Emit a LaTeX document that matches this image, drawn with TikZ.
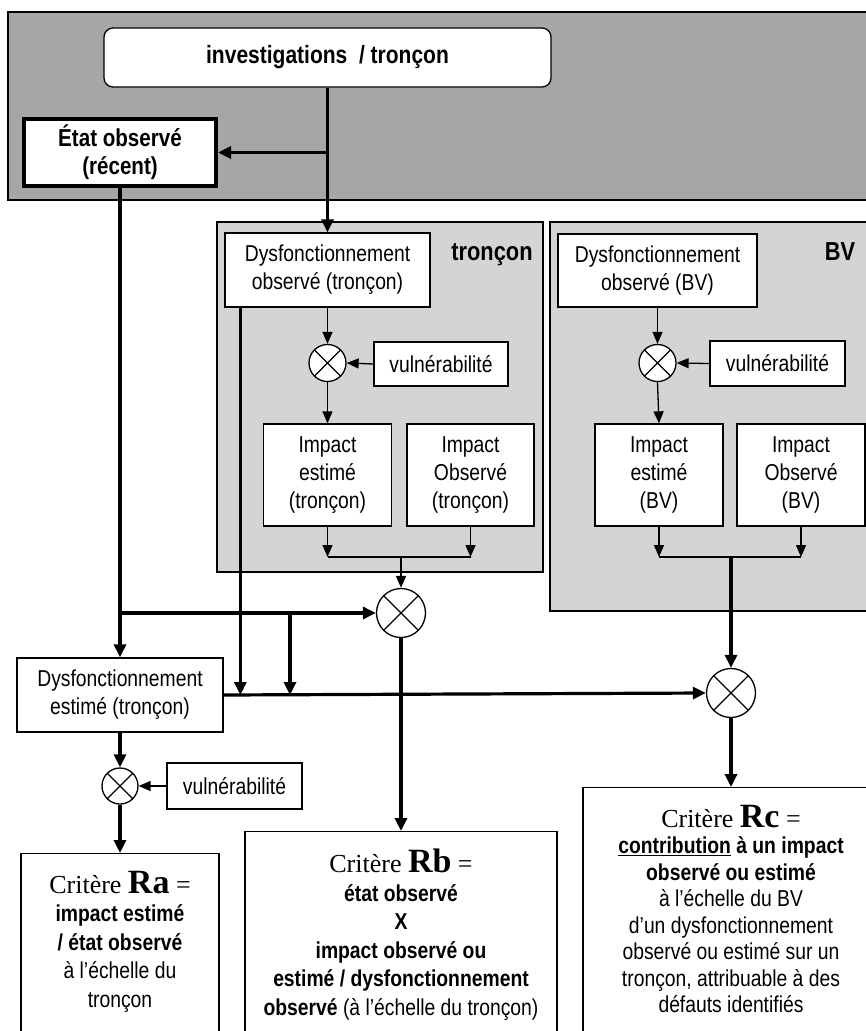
\documentclass[tikz,border=0pt]{standalone}
\usepackage{fontspec}
\setmainfont{Liberation Sans}[FakeStretch=0.84]
\newfontfamily\critserif{Liberation Serif}
\usepackage{xcolor}
\usetikzlibrary{arrows.meta, positioning, calc}
\tikzstyle{arrow} = [line width=3.2pt, -{Triangle[length=13pt,width=12pt]}]
\tikzstyle{thinarrow} = [line width=1.3pt, -{Triangle[length=12pt,width=10pt]}]
\tikzstyle{thickline} = [line width=3.2pt]
\tikzstyle{thinline} = [line width=1.3pt]
\newcommand{\critere}[1]{{\critserif\fontsize{26}{28}\selectfont Critère \textbf{\fontsize{34}{34}\selectfont #1} =}}

\begin{document}
\begin{tikzpicture}[x=1pt, y=-1pt,
        box/.style={draw, line width=1.3pt, fill=white, align=center, inner sep=0pt, font=\fontsize{23}{28}\selectfont},
        zone/.style={draw, line width=1.5pt, fill=black!17},
        mult/.style={circle, draw, line width=1.3pt, fill=white, inner sep=0pt, path picture={
            \draw[line width=1.1pt] (path picture bounding box.north west) -- (path picture bounding box.south east)
                (path picture bounding box.north east) -- (path picture bounding box.south west);}},
        crit/.style={align=center, inner sep=0pt, font=\fontsize{23}{28.5}\selectfont},
        zonelabel/.style={anchor=base, font=\bfseries\fontsize{26}{28}\selectfont}
    ]
        \useasboundingbox (0,0) rectangle (866,1031);
        \clip (0,0) rectangle (866,1031);
        \fill[white] (0,0) rectangle (866,1031);

        % Upper band and the two zones
        \draw[draw, line width=1.5pt, fill=black!35] (8,12) rectangle (890,200);
        \draw[zone] (217,222) rectangle (543,572);
        \draw[zone] (550,222) rectangle (890,611);
        \node[zonelabel] (lbltr) at (492,260) {tronçon};
        \node[zonelabel] (lblbv) at (840,260) {BV};

        % Investigations and observed state
        \node (inv) [box, rounded corners=9pt, minimum width=447, minimum height=59, font=\bfseries\fontsize{25}{28}\selectfont] at (327.5,57.5) {investigations\ \ / tronçon};
        \node (etat) [box, line width=4pt, minimum width=192, minimum height=67, font=\bfseries\fontsize{24.5}{28}\selectfont] at (120,152.5) {État observé\\(récent)};

        % Zone tronçon
        \node (dto) [box, minimum width=205, minimum height=74] at (327.5,270) {Dysfonctionnement\\observé (tronçon)};
        \node (c1) [mult, minimum size=37] at (327.5,363) {};
        \node (v1) [box, minimum width=134, minimum height=44] at (441,364) {vulnérabilité};
        \node (ie1) [box, minimum width=128, minimum height=102] at (327.5,475) {Impact\\estimé\\(tronçon)};
        \node (io1) [box, minimum width=127, minimum height=102] at (470.5,475) {Impact\\Observé\\(tronçon)};
        \coordinate (j1) at (401,557);

        % Zone BV
        \node (dbv) [box, minimum width=199, minimum height=73] at (657.5,270.5) {Dysfonctionnement\\observé (BV)};
        \node (c2) [mult, minimum size=37] at (657.5,363) {};
        \node (v2) [box, minimum width=135, minimum height=45] at (777.5,363.5) {vulnérabilité};
        \node (ie2) [box, minimum width=128, minimum height=102] at (659,475) {Impact\\estimé\\(BV)};
        \node (io2) [box, minimum width=128, minimum height=102] at (801,475) {Impact\\Observé\\(BV)};
        \coordinate (j2) at (731,557);

        % Lower part
        \node (ct) [mult, minimum size=49] at (401,613) {};
        \node (cbv) [mult, minimum size=49] at (731,693) {};
        \node (de) [box, minimum width=206, minimum height=74] at (120,695) {Dysfonctionnement\\estimé (tronçon)};
        \node (c3) [mult, minimum size=36] at (120,786) {};
        \node (v3) [box, minimum width=135, minimum height=46] at (234.5,786) {vulnérabilité};
        \coordinate (dtoleg) at ([xshift=16pt]dto.south west);
        \coordinate (br) at (290,613);

        % Criteria boxes (cut by the bottom edge)
        \node (ra) [box, anchor=north, minimum width=198, minimum height=300] at (120,853) {};
        \node (rb) [box, anchor=north, minimum width=312, minimum height=300] at (401,831) {};
        \node (rc) [box, anchor=north, minimum width=296, minimum height=300] at (731,787) {};
        \node (ratxt) [crit, anchor=north] at ([yshift=-18pt]ra.north) {\critere{Ra}\\\textbf{impact estimé}\\\textbf{/ état observé}\\à l’échelle du\\tronçon};
        \node (rbtxt) [crit, anchor=north] at ([yshift=-18pt]rb.north) {\critere{Rb}\\\textbf{état observé}\\\textbf{X}\\\textbf{impact observé ou}\\\textbf{estimé / dysfonctionnement}\\\textbf{observé} (à l’échelle du tronçon)};
        \node (rctxt) [crit, anchor=north, font=\fontsize{23}{26.5}\selectfont] at ([yshift=-18pt]rc.north) {\critere{Rc}\\\textbf{\underline{contribution} à un impact}\\\textbf{observé ou estimé}\\à l’échelle du BV\\d’un dysfonctionnement\\observé ou estimé sur un\\tronçon, attribuable à des\\défauts identifiés};

        % Thick connectors
        \draw[arrow] (inv.south) -- (dto.north);
        \draw[arrow] (inv.south |- etat.east) -- (etat.east);
        \draw[arrow] (etat.south) -- (de.north);
        \draw[arrow] (etat.south |- ct.west) -- (ct.west);
        \draw[arrow] (br) -- (br |- de.east);
        \draw[arrow] (dtoleg) -- (dtoleg |- de.east);
        \draw[arrow] (de.east) -- (cbv.west);
        \draw[arrow] (ct.south) -- (rb.north);
        \draw[arrow] (j2) -- (cbv.north);
        \draw[arrow] (cbv.south) -- (rc.north);
        \draw[arrow] (de.south) -- (c3.north);
        \draw[arrow] (c3.south) -- (ra.north);

        % Thin connectors inside the zones
        \draw[thinarrow] (dto.south) -- (c1.north);
        \draw[thinarrow] (v1.west) -- (c1.east);
        \draw[thinarrow] (c1.south) -- (ie1.north);
        \draw[thinarrow] (ie1.south) -- (ie1.south |- j1);
        \draw[thinarrow] (io1.south) -- (io1.south |- j1);
        \draw[thinline] (ie1.south |- j1) -- (io1.south |- j1);
        \draw[thinarrow, line width=1.8pt] (j1) -- (ct.north);

        \draw[thinarrow] (dbv.south) -- (c2.north);
        \draw[thinarrow] (v2.west) -- (c2.east);
        \draw[thinarrow] (c2.south) -- (ie2.north);
        \draw[thinarrow] (ie2.south) -- (ie2.south |- j2);
        \draw[thinarrow] (io2.south) -- (io2.south |- j2);
        \draw[thinline] (ie2.south |- j2) -- (io2.south |- j2);

        \draw[thinarrow, line width=1.8pt] (v3.west) -- (c3.east);
\end{tikzpicture}
\end{document}
